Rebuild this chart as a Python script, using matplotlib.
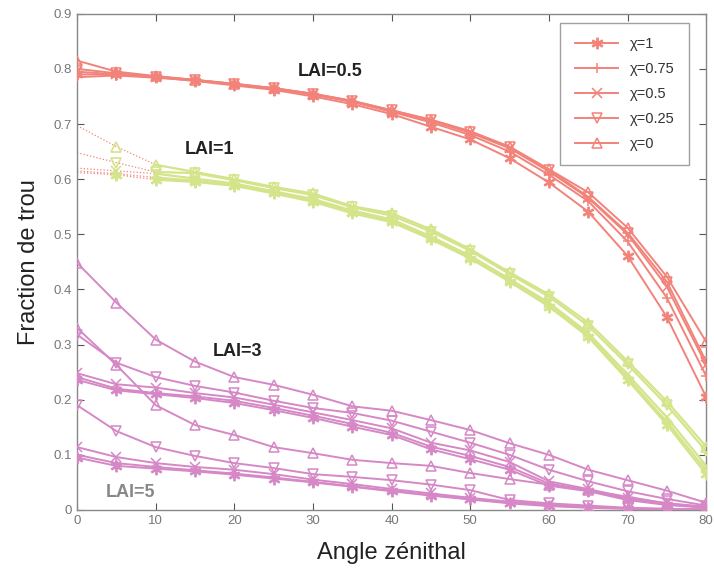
import matplotlib
matplotlib.use("Agg")
import matplotlib.pyplot as plt
from matplotlib.lines import Line2D

plt.rcParams['font.family'] = ['Liberation Sans', 'DejaVu Sans']

angles = [0, 5, 10, 15, 20, 25, 30, 35, 40, 45, 50, 55, 60, 65, 70, 75, 80]
chi_labels = ["χ=1", "χ=0.75", "χ=0.5", "χ=0.25", "χ=0"]
markers = ["$*$", "+", "x", "v", "^"]

# LAI = 0.5 (chi = 1, 0.75, 0.5, 0.25, 0)
lai05_chi1 = [0.790, 0.790, 0.785, 0.778, 0.770, 0.762, 0.750, 0.736, 0.718, 0.695, 0.672, 0.638, 0.594, 0.541, 0.461, 0.350, 0.205]
lai05_chi075 = [0.785, 0.788, 0.784, 0.779, 0.772, 0.764, 0.753, 0.740, 0.722, 0.703, 0.680, 0.650, 0.608, 0.560, 0.487, 0.385, 0.243]
lai05_chi05 = [0.795, 0.790, 0.786, 0.780, 0.772, 0.765, 0.754, 0.741, 0.724, 0.706, 0.684, 0.656, 0.614, 0.566, 0.500, 0.405, 0.263]
lai05_chi025 = [0.800, 0.792, 0.786, 0.780, 0.773, 0.765, 0.755, 0.742, 0.725, 0.707, 0.686, 0.658, 0.617, 0.568, 0.503, 0.414, 0.269]
lai05_chi0 = [0.815, 0.795, 0.787, 0.780, 0.773, 0.765, 0.755, 0.742, 0.725, 0.708, 0.687, 0.659, 0.618, 0.576, 0.512, 0.423, 0.305]

# LAI = 1
lai1_chi1 = [0.612, 0.608, 0.599, 0.595, 0.588, 0.574, 0.559, 0.538, 0.522, 0.491, 0.456, 0.414, 0.369, 0.314, 0.236, 0.155, 0.065]
lai1_chi075 = [0.615, 0.610, 0.603, 0.597, 0.589, 0.576, 0.561, 0.540, 0.524, 0.493, 0.458, 0.416, 0.372, 0.317, 0.240, 0.160, 0.072]
lai1_chi05 = [0.620, 0.615, 0.610, 0.601, 0.592, 0.578, 0.564, 0.543, 0.527, 0.496, 0.461, 0.419, 0.376, 0.321, 0.246, 0.168, 0.080]
lai1_chi025 = [0.648, 0.630, 0.613, 0.611, 0.598, 0.584, 0.571, 0.549, 0.534, 0.505, 0.470, 0.428, 0.387, 0.334, 0.264, 0.190, 0.107]
lai1_chi0 = [0.697, 0.659, 0.626, 0.613, 0.600, 0.586, 0.574, 0.551, 0.538, 0.509, 0.473, 0.431, 0.391, 0.340, 0.270, 0.197, 0.115]

# LAI = 3
lai3_chi1 = [0.236, 0.217, 0.210, 0.203, 0.194, 0.181, 0.167, 0.151, 0.136, 0.110, 0.092, 0.073, 0.044, 0.034, 0.018, 0.009, 0.004]
lai3_chi075 = [0.241, 0.220, 0.212, 0.206, 0.198, 0.185, 0.171, 0.156, 0.140, 0.115, 0.098, 0.078, 0.048, 0.036, 0.020, 0.010, 0.005]
lai3_chi05 = [0.248, 0.228, 0.222, 0.212, 0.204, 0.191, 0.177, 0.163, 0.148, 0.122, 0.108, 0.087, 0.052, 0.038, 0.022, 0.012, 0.006]
lai3_chi025 = [0.318, 0.267, 0.241, 0.225, 0.213, 0.198, 0.185, 0.176, 0.162, 0.142, 0.122, 0.100, 0.073, 0.052, 0.034, 0.020, 0.008]
lai3_chi0 = [0.448, 0.376, 0.309, 0.269, 0.241, 0.227, 0.209, 0.188, 0.180, 0.163, 0.145, 0.121, 0.100, 0.073, 0.054, 0.035, 0.013]

# LAI = 5
lai5_chi1 = [0.095, 0.080, 0.075, 0.070, 0.064, 0.057, 0.050, 0.042, 0.034, 0.026, 0.019, 0.012, 0.007, 0.004, 0.002, 0.001, 0.000]
lai5_chi075 = [0.100, 0.085, 0.078, 0.072, 0.066, 0.059, 0.051, 0.043, 0.035, 0.027, 0.020, 0.013, 0.008, 0.005, 0.003, 0.001, 0.001]
lai5_chi05 = [0.114, 0.096, 0.085, 0.078, 0.073, 0.065, 0.055, 0.047, 0.038, 0.030, 0.022, 0.015, 0.010, 0.006, 0.003, 0.002, 0.001]
lai5_chi025 = [0.190, 0.143, 0.114, 0.098, 0.085, 0.076, 0.065, 0.060, 0.054, 0.046, 0.036, 0.018, 0.012, 0.008, 0.004, 0.002, 0.001]
lai5_chi0 = [0.330, 0.263, 0.190, 0.154, 0.136, 0.114, 0.103, 0.091, 0.085, 0.080, 0.067, 0.056, 0.046, 0.036, 0.024, 0.012, 0.005]

lai_labels = ["LAI=0.5", "LAI=1", "LAI=3", "LAI=5"]

RED = "#f2837a"
GREEN = "#d3e48a"
PINK = "#d688c6"

groups = [
    ([lai05_chi1, lai05_chi075, lai05_chi05, lai05_chi025, lai05_chi0], RED),
    ([lai1_chi1, lai1_chi075, lai1_chi05, lai1_chi025, lai1_chi0], GREEN),
    ([lai3_chi1, lai3_chi075, lai3_chi05, lai3_chi025, lai3_chi0], PINK),
    ([lai5_chi1, lai5_chi075, lai5_chi05, lai5_chi025, lai5_chi0], PINK),
]

fig = plt.figure(figsize=(7.14, 5.73), dpi=100)
ax = fig.add_axes([0.108, 0.110, 0.881, 0.866])

for gi, (series, color) in enumerate(groups):
    for si, ys in enumerate(series):
        m = markers[si]
        ms = 7.5 if m == "$*$" else 6.5
        if gi == 1:
            # first segment drawn dotted red, as in the reference
            ax.plot(angles[:3], ys[:3], ls=":", color=RED, lw=0.9, zorder=2)
            ax.plot(angles[2:], ys[2:], ls="-", color=color, lw=1.6, zorder=2)
            ax.plot(angles[1:], ys[1:], ls="none", marker=m, ms=ms, mfc="none",
                    mec=color, mew=1.2, zorder=3)
        else:
            ax.plot(angles, ys, ls="-", color=color, lw=1.4, marker=m, ms=ms,
                    mfc="none", mec=color, mew=1.1, zorder=3)

ax.set_xlim(0, 80)
ax.set_ylim(0, 0.9)
ax.set_xticks([0, 10, 20, 30, 40, 50, 60, 70, 80])
ax.set_yticks([0, 0.1, 0.2, 0.3, 0.4, 0.5, 0.6, 0.7, 0.8, 0.9])
ax.set_yticklabels(["0", "0.1", "0.2", "0.3", "0.4", "0.5", "0.6", "0.7", "0.8", "0.9"])
ax.tick_params(direction="in", length=5, labelsize=9.5, labelcolor="#777777",
               colors="#555555", top=True, right=True)
for s in ax.spines.values():
    s.set_color("#888888")
    s.set_linewidth(1.0)

ax.set_xlabel("Angle zénithal", fontsize=17, color="#222222", labelpad=11)
ax.set_ylabel("Fraction de trou", fontsize=17, color="#222222", labelpad=10)

txt = dict(fontsize=13, fontweight="bold")
ax.text(32.2, 0.795, lai_labels[0], color="#222222", ha="center", va="center", **txt)
ax.text(16.9, 0.653, lai_labels[1], color="#222222", ha="center", va="center", **txt)
ax.text(20.4, 0.287, lai_labels[2], color="#222222", ha="center", va="center", **txt)
ax.text(6.8, 0.031, lai_labels[3], color="#888888", ha="center", va="center", **txt)

handles = []
for si in range(5):
    m = markers[si]
    handles.append(Line2D([], [], color=RED, lw=1.4, marker=m,
                          ms=7.5 if m == "$*$" else 6.5, mfc="none", mec=RED, mew=1.1))
leg = ax.legend(handles, chi_labels, loc="upper right", fontsize=10.5,
                frameon=True, fancybox=False, edgecolor="#888888",
                handlelength=3.0, labelspacing=0.75, borderpad=1.0,
                bbox_to_anchor=(0.985, 0.997))
for t in leg.get_texts():
    t.set_color("#333333")

fig.savefig("out.png", dpi=100)
